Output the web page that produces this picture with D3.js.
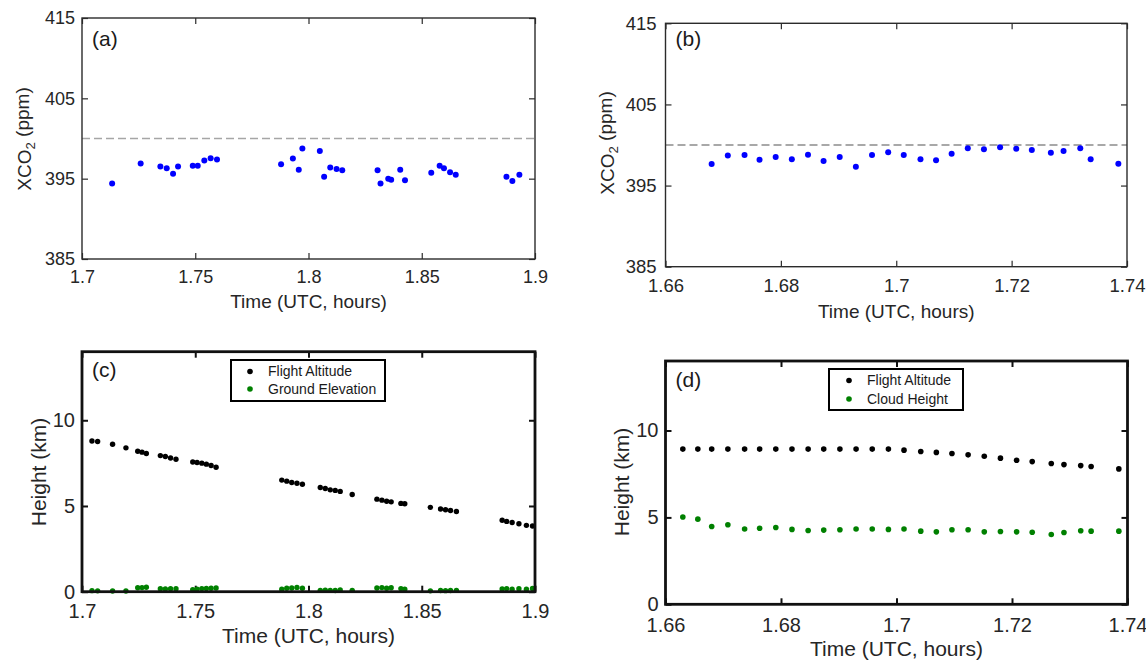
<!DOCTYPE html>
<html><head><meta charset="utf-8">
<script src="https://cdn.jsdelivr.net/npm/d3@7"></script>
<style>
html,body{margin:0;padding:0;background:#fff;}
svg{display:block;font-family:"Liberation Sans",Arial,sans-serif;}
</style></head>
<body>
<svg id="chart" width="1146" height="661"></svg>
<script>
// ---------- data ----------
const timeA = [1.7133,1.7259,1.7346,1.7374,1.7402,1.7424,1.7489,1.7511,1.754,1.7568,1.7596,
  1.7879,1.7931,1.7957,1.7973,1.805,1.8069,1.8096,1.8124,1.8149,1.8305,1.8318,1.8352,1.8365,
  1.8405,1.8426,1.8542,1.8579,1.8598,1.8625,1.865,1.8874,1.89,1.8931];
const xco2A = [394.4,396.9,396.5,396.3,395.6,396.5,396.6,396.6,397.25,397.55,397.4,
  396.8,397.5,396.1,398.75,398.45,395.25,396.4,396.2,396.05,396.05,394.4,395.0,394.85,
  396.1,394.8,395.75,396.6,396.3,395.8,395.5,395.25,394.7,395.5];

const timeB = [1.668,1.6708,1.6737,1.6763,1.6791,1.6819,1.6847,1.6874,1.6902,1.693,1.6958,1.6986,
  1.7013,1.7042,1.7069,1.7096,1.7124,1.7152,1.718,1.7208,1.7235,1.7268,1.729,1.7319,1.7337,1.7385];
const xco2B = [397.66,398.7,398.77,398.19,398.52,398.24,398.8,398.03,398.52,397.32,398.77,399.1,
  398.77,398.24,398.11,398.93,399.6,399.47,399.72,399.54,399.38,399.05,399.26,399.6,398.24,397.69];

const timeC = [1.7044,1.7069,1.7135,1.7194,1.7246,1.7265,1.7284,1.7346,1.7368,1.7391,1.7415,
  1.7489,1.7508,1.7529,1.7549,1.757,1.7592,1.7882,1.7904,1.7926,1.7949,1.7973,
  1.8052,1.8074,1.8096,1.8118,1.814,1.8193,1.8302,1.8324,1.8345,1.8365,1.8408,1.8425,
  1.8538,1.8583,1.8605,1.8627,1.8653,1.8855,1.8875,1.8899,1.8929,1.8962,1.8989];
const flightAltC = [8.79,8.76,8.60,8.39,8.19,8.14,8.06,7.94,7.89,7.80,7.73,
  7.57,7.54,7.50,7.44,7.36,7.26,6.51,6.45,6.37,6.33,6.27,
  6.08,6.02,5.94,5.91,5.85,5.67,5.40,5.34,5.28,5.24,5.15,5.13,
  4.92,4.82,4.78,4.74,4.68,4.17,4.10,4.04,3.96,3.87,3.83];
const groundElevC = [0.06,0.05,0.04,0.04,0.23,0.24,0.26,0.17,0.16,0.17,0.17,
  0.12,0.15,0.18,0.19,0.2,0.22,0.14,0.2,0.22,0.25,0.2,
  0.08,0.09,0.08,0.07,0.1,0.08,0.22,0.24,0.2,0.23,0.18,0.15,
  0.05,0.07,0.06,0.07,0.08,0.16,0.18,0.15,0.17,0.15,0.19];

const timeD = [1.663,1.6656,1.668,1.6708,1.6737,1.6763,1.6791,1.6819,1.6847,1.6874,1.6902,1.693,1.6958,1.6986,
  1.7013,1.7042,1.7069,1.7096,1.7124,1.7152,1.718,1.7208,1.7235,1.7268,1.729,1.7319,1.7337,1.7385];
const flightAltD = [8.93,8.93,8.93,8.93,8.93,8.93,8.93,8.93,8.93,8.93,8.93,8.93,8.93,8.93,
  8.87,8.79,8.74,8.68,8.60,8.52,8.41,8.29,8.21,8.10,8.04,7.98,7.93,7.79];
const cloudHeightD = [5.02,4.90,4.48,4.58,4.33,4.38,4.42,4.31,4.25,4.27,4.29,4.33,4.33,4.31,
  4.33,4.21,4.17,4.29,4.29,4.17,4.19,4.17,4.15,4.02,4.13,4.23,4.21,4.21];

const refLine = 400;
const xTicksAC = [1.7,1.75,1.8,1.85,1.9];
const xTickLabelsAC = ["1.7","1.75","1.8","1.85","1.9"];
const xTicksBD = [1.66,1.68,1.7,1.72,1.74];
const xTickLabelsBD = ["1.66","1.68","1.7","1.72","1.74"];
const yTicksXCO2 = [385,395,405,415];
const yTicksHeight = [0,5,10];
const legendC = ["Flight Altitude","Ground Elevation"];
const legendD = ["Flight Altitude","Cloud Height"];

// ---------- drawing ----------
const svg = d3.select("#chart");
const FONT = '"Liberation Sans",Arial,sans-serif';

function panel(cfg){
  const g = svg.append("g");
  const x = d3.scaleLinear().domain(cfg.xDomain).range([cfg.left, cfg.right]);
  const y = d3.scaleLinear().domain(cfg.yDomain).range([cfg.bottom, cfg.top]);
  const tickLen = 6;
  const axColor = cfg.axColor;

  const bx = g.append("g").attr("transform",`translate(0,${cfg.bottom})`)
    .call(d3.axisBottom(x).tickValues(cfg.xTicks).tickFormat((d,i)=>cfg.xLabels[i])
      .tickSizeInner(-tickLen).tickSizeOuter(0).tickPadding(cfg.xPad));
  const tx = g.append("g").attr("transform",`translate(0,${cfg.top})`)
    .call(d3.axisTop(x).tickValues(cfg.xTicks).tickFormat("").tickSizeInner(-tickLen).tickSizeOuter(0));
  const ly = g.append("g").attr("transform",`translate(${cfg.left},0)`)
    .call(d3.axisLeft(y).tickValues(cfg.yTicks).tickFormat(d3.format("d"))
      .tickSizeInner(-tickLen).tickSizeOuter(0).tickPadding(cfg.yPad));
  const ry = g.append("g").attr("transform",`translate(${cfg.right},0)`)
    .call(d3.axisRight(y).tickValues(cfg.yTicks).tickFormat("").tickSizeInner(-tickLen).tickSizeOuter(0));
  [bx,tx,ly,ry].forEach(a=>{
    a.select(".domain").remove();
    a.selectAll(".tick line").attr("stroke",axColor).attr("stroke-width",cfg.tickW);
    a.selectAll(".tick text").attr("fill","#262626").style("font-family",FONT).style("font-size",cfg.tickFont+"px");
  });

  if (cfg.ref !== undefined){
    g.append("line").attr("x1",cfg.left).attr("x2",cfg.right)
      .attr("y1",y(cfg.ref)).attr("y2",y(cfg.ref))
      .attr("stroke",cfg.refColor).attr("stroke-width",1.6).attr("stroke-dasharray","8,4");
  }

  cfg.series.forEach(s=>{
    g.append("g").selectAll("circle").data(s.t).join("circle")
      .attr("cx",d=>x(d)).attr("cy",(d,i)=>y(s.v[i])).attr("r",s.r).attr("fill",s.color);
  });

  g.append("rect").attr("x",cfg.left).attr("y",cfg.top)
    .attr("width",cfg.right-cfg.left).attr("height",cfg.bottom-cfg.top)
    .attr("fill","none").attr("stroke",axColor).attr("stroke-width",cfg.boxW);

  g.append("text").attr("x",cfg.left+10).attr("y",cfg.letterY).text(cfg.letter)
    .attr("fill","#1a1a1a").style("font-size","21px");

  g.append("text").attr("x",(cfg.left+cfg.right)/2).attr("y",cfg.xLabelY)
    .attr("text-anchor","middle").attr("fill","#262626").style("font-size",cfg.labelFont+"px")
    .text("Time (UTC, hours)");

  const yl = g.append("text").attr("transform",`translate(${cfg.yLabelX},${cfg.yLabelY}) rotate(-90)`)
    .attr("text-anchor","middle").attr("dy","0.35em").attr("fill","#262626")
    .style("font-size",cfg.labelFont+"px");
  if (cfg.yLabel === "XCO2"){
    yl.append("tspan").text("XCO");
    yl.append("tspan").text("2").attr("dy","0.3em").style("font-size",(cfg.labelFont*0.7)+"px");
    yl.append("tspan").text(" (ppm)").attr("dy","-0.3em").style("font-size",cfg.labelFont+"px");
  } else {
    yl.text(cfg.yLabel);
  }

  if (cfg.legend){
    const L = cfg.legend;
    g.append("rect").attr("x",L.x).attr("y",L.y).attr("width",L.w).attr("height",L.h)
      .attr("fill","#fff").attr("stroke","#000").attr("stroke-width",2);
    L.labels.forEach((lab,i)=>{
      const cy = L.y + L.row0 + i*L.rowGap;
      g.append("circle").attr("cx",L.x+L.mx).attr("cy",cy).attr("r",2.8).attr("fill",cfg.series[i].color);
      g.append("text").attr("x",L.x+L.tx).attr("y",cy).attr("dy","0.35em")
        .attr("fill","#1a1a1a").style("font-size","14px").text(lab);
    });
  }
}

panel({
  left:82, right:535, top:18, bottom:259,
  xDomain:[1.7,1.9], yDomain:[385,415],
  xTicks:xTicksAC, xLabels:xTickLabelsAC, yTicks:yTicksXCO2,
  xPad:11.5, yPad:7, tickFont:18, labelFont:19, axColor:"#2b2b2b", boxW:1.4, tickW:1.2,
  ref:refLine, refColor:"#a6a6a6",
  series:[{t:timeA, v:xco2A, color:"#0000ff", r:3}],
  letter:"(a)", letterY:45.5, xLabelY:308, yLabelX:24, yLabelY:139, yLabel:"XCO2"
});
panel({
  left:665.5, right:1127, top:23.3, bottom:266.7,
  xDomain:[1.66,1.74], yDomain:[385,415],
  xTicks:xTicksBD, xLabels:xTickLabelsBD, yTicks:yTicksXCO2,
  xPad:12.5, yPad:9, tickFont:18.5, labelFont:19, axColor:"#2b2b2b", boxW:1.4, tickW:1.2,
  ref:refLine, refColor:"#8c8c8c",
  series:[{t:timeB, v:xco2B, color:"#0000ff", r:3}],
  letter:"(b)", letterY:45.5, xLabelY:318, yLabelX:607, yLabelY:143, yLabel:"XCO2"
});
panel({
  left:82, right:535, top:351.7, bottom:591.7,
  xDomain:[1.7,1.9], yDomain:[0,14],
  xTicks:xTicksAC, xLabels:xTickLabelsAC, yTicks:yTicksHeight,
  xPad:12.5, yPad:7, tickFont:20, labelFont:21, axColor:"#111", boxW:2.8, tickW:2,
  series:[{t:timeC, v:flightAltC, color:"#000", r:2.7},{t:timeC, v:groundElevC, color:"#008000", r:2.7}],
  letter:"(c)", letterY:377, xLabelY:643, yLabelX:39, yLabelY:472, yLabel:"Height (km)",
  legend:{x:231, y:360, w:154, h:41, mx:19, tx:37, row0:11.5, rowGap:17.5, labels:legendC}
});
panel({
  left:665.5, right:1127.5, top:361, bottom:604.3,
  xDomain:[1.66,1.74], yDomain:[0,14],
  xTicks:xTicksBD, xLabels:xTickLabelsBD, yTicks:yTicksHeight,
  xPad:14, yPad:7, tickFont:20, labelFont:21, axColor:"#111", boxW:2.8, tickW:2,
  series:[{t:timeD, v:flightAltD, color:"#000", r:2.8},{t:timeD, v:cloudHeightD, color:"#008000", r:2.8}],
  letter:"(d)", letterY:387, xLabelY:656, yLabelX:622, yLabelY:482, yLabel:"Height (km)",
  legend:{x:829, y:369, w:134, h:41, mx:20, tx:38, row0:11.5, rowGap:18.5, labels:legendD}
});
</script>
</body></html>
